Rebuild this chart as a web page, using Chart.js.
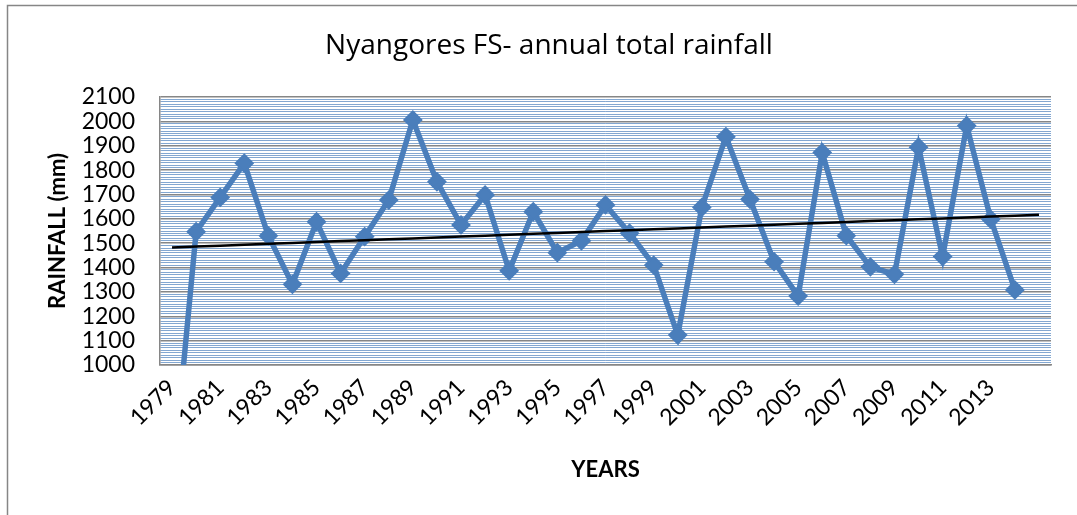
<!DOCTYPE html>
<html>
<head>
<meta charset="utf-8">
<script src="https://cdn.jsdelivr.net/npm/chart.js@4.4.0/dist/chart.umd.min.js"></script>
<style>
  html, body { margin: 0; padding: 0; background: #fff; }
</style>
</head>
<body>
<canvas id="rainChart" width="1077" height="515"></canvas>
<script>
// annual totals
const years = ["1979", "1980", "1981", "1982", "1983", "1984", "1985", "1986", "1987",
  "1988", "1989", "1990", "1991", "1992", "1993", "1994", "1995", "1996", "1997",
  "1998", "1999", "2000", "2001", "2002", "2003", "2004", "2005", "2006", "2007",
  "2008", "2009", "2010", "2011", "2012", "2013", "2014"];
const rainfall = [500, 1547, 1688, 1828, 1530, 1331, 1588, 1376, 1527,
  1677, 2006, 1752, 1575, 1698, 1387, 1629, 1461, 1510, 1657,
  1541, 1410, 1123, 1647, 1937, 1680, 1424, 1283, 1872, 1531,
  1403, 1372, 1894, 1445, 1982, 1598, 1308];
// Excel trendline was forecast one period forward -> one blank category
const forecastSlot = [""];
const yRange = [1000, 2100];

const labels = years.concat(forecastSlot);

// least squares line over the data, evaluated on every category
function linearTrend(values, count) {
  const n = values.length;
  let sx = 0, sy = 0, sxy = 0, sxx = 0;
  values.forEach((y, x) => { sx += x; sy += y; sxy += x * y; sxx += x * x; });
  const slope = (n * sxy - sx * sy) / (n * sxx - sx * sx);
  const icpt = (sy - slope * sx) / n;
  const out = [];
  for (let i = 0; i < count; i++) out.push(icpt + slope * i);
  return out;
}

const frame = {
  id: "frame",
  beforeDraw(chart) {
    const ctx = chart.ctx;
    ctx.save();
    ctx.fillStyle = "#fff";
    ctx.fillRect(0, 0, chart.width, chart.height);
    ctx.strokeStyle = "#868686";
    ctx.lineWidth = 1.5;
    ctx.strokeRect(7.5, 5.5, chart.width + 20, chart.height + 20);
    ctx.restore();
  }
};

const font = { family: "Lato", size: 23 };
const boldFont = { family: "Lato", size: 22, weight: "bold" };

new Chart(document.getElementById("rainChart"), {
  type: "line",
  data: {
    labels: labels,
    datasets: [
      {
        label: "Trend",
        data: linearTrend(rainfall, labels.length),
        borderColor: "#000",
        borderWidth: 2.5,
        pointRadius: 0,
        order: 0,
      },
      {
        label: "Rainfall",
        data: rainfall,
        borderColor: "#4a7ebb",
        backgroundColor: "#4a7ebb",
        borderWidth: 5.5,
        pointStyle: "rectRot",
        pointRadius: 8.5,
        pointBorderWidth: 2,
        tension: 0,
        order: 1,
      },
    ],
  },
  options: {
    responsive: false,
    animation: false,
    devicePixelRatio: 1,
    layout: { padding: { left: 47, right: 26, top: 0, bottom: 0 } },
    plugins: {
      legend: { display: false },
      tooltip: { enabled: false },
      title: {
        display: true,
        text: "Nyangores FS- annual total rainfall",
        color: "#000",
        font: { family: "Open Sans", size: 28, weight: "normal", lineHeight: 1.2 },
        padding: { top: 29, bottom: 34.4 },
      },
    },
    scales: {
      x: {
        offset: true,
        grid: { display: false, drawTicks: false },
        border: { color: "#868686", width: 1.5 },
        ticks: {
          autoSkip: false,
          minRotation: 45,
          maxRotation: 45,
          padding: 9,
          color: "#000",
          font: font,
          callback(v, i) { return i % 2 === 0 ? this.getLabelForValue(v) : ""; },
        },
        title: { display: true, text: "YEARS", color: "#000", font: boldFont, padding: { top: 0, bottom: 32 } },
        afterFit(scale) { scale.height = 150; },
      },
      y: {
        min: yRange[0],
        max: yRange[1],
        grid: {
          drawTicks: false,
          color: (c) => (Math.round(c.tick.value) % 100 === 0 ? "#868686" : "rgba(79,129,189,0.7)"),
          lineWidth: (c) => (Math.round(c.tick.value) % 100 === 0 ? 1.5 : 1),
        },
        border: { color: "#868686", width: 1.5 },
        ticks: {
          stepSize: 10,
          autoSkip: false,
          padding: 25,
          color: "#000",
          font: font,
          callback: (v) => (Math.round(v) % 100 === 0 ? v : ""),
        },
        title: { display: true, text: "RAINFALL (mm)", color: "#000", font: { family: "Lato", size: 22, weight: "bold", lineHeight: 1 }, padding: { top: 0, bottom: 0 } },
        afterFit(scale) { scale.width = 113; },
      },
    },
  },
  plugins: [frame],
});
</script>
</body>
</html>
